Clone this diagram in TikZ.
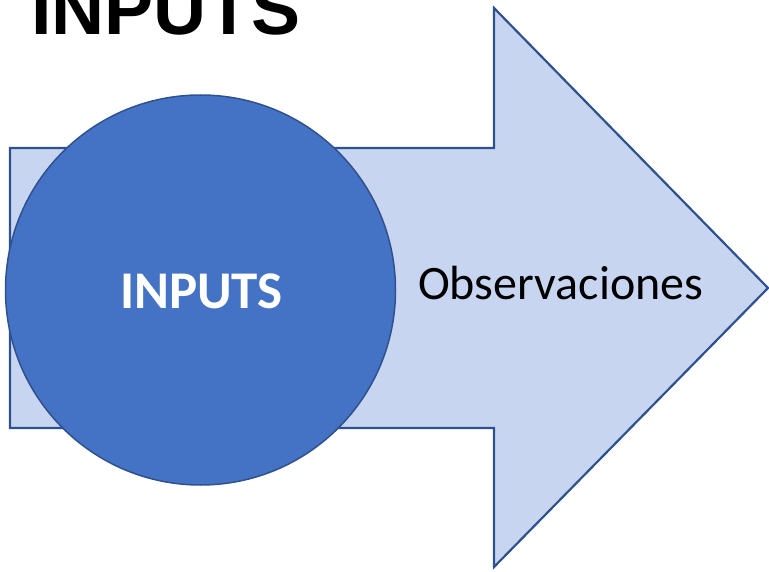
\documentclass[tikz,border=0pt]{standalone}
\usepackage{fontspec}
\setmainfont{Carlito}
\newfontfamily\titlefont{Liberation Sans}
\definecolor{arrowfill}{RGB}{200,213,241}
\definecolor{edgeblue}{RGB}{47,82,143}
\definecolor{circfill}{RGB}{68,114,196}
\begin{document}
\begin{tikzpicture}[x=1pt,y=-1pt,
  arrowshape/.style={fill=arrowfill,draw=edgeblue,line width=2.2pt,line join=miter},
  bigcircle/.style={circle,fill=circfill,draw=edgeblue,line width=1.5pt,minimum size=390pt,inner sep=0pt},
  titletext/.style={font=\titlefont\bfseries\fontsize{73.5}{80}\selectfont,anchor=base west,inner sep=0pt},
  circtext/.style={font=\bfseries\fontsize{53}{60}\selectfont,text=white},
  arrowtext/.style={font=\fontsize{48}{56}\selectfont,anchor=base west,inner sep=0pt}]
\useasboundingbox (0,0) rectangle (769,572);
\draw[arrowshape] (10,148) -- (494,148) -- (494,8) -- (768,288) -- (494,567) -- (494,428) -- (10,428) -- cycle;
\node[bigcircle] (c) at (200.5,290) {};
\node[circtext] (ct) at (201.5,291) {INPUTS};
\node[arrowtext] (obs) at (418,300) {Observaciones};
\node[titletext] (title) at (31,35) {INPUTS};
\end{tikzpicture}
\end{document}
